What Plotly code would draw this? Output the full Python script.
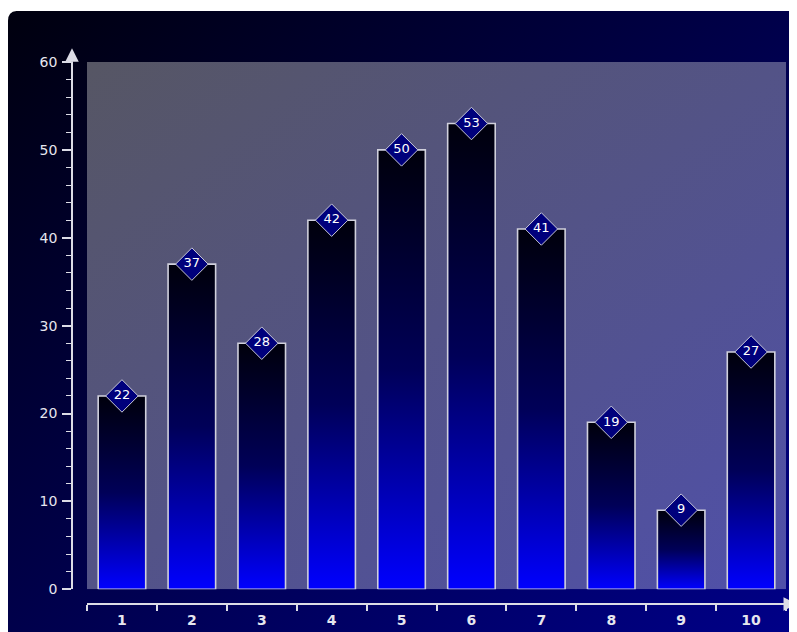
import base64
import plotly.graph_objects as go

# ---- data ----
categories = [1, 2, 3, 4, 5, 6, 7, 8, 9, 10]
values = [22, 37, 28, 42, 50, 53, 41, 19, 9, 27]
tick_labels = [str(c) for c in categories]

W, H = 797, 632
ML, MR, MT, MB = 64, 19, 54, 26
PW = W - ML - MR
PH = H - MT - MB
GAP = 15
BAR_HALF = 0.34

AXIS_COL = "#dcdce6"
FONT = "DejaVu Sans"


def svg_uri(svg):
    return "data:image/svg+xml;base64," + base64.b64encode(svg.encode()).decode()


bg_w, bg_h = W + 20, H + 20
outer_svg = f"""<svg xmlns='http://www.w3.org/2000/svg' width='{bg_w}' height='{bg_h}' viewBox='0 0 {bg_w} {bg_h}' preserveAspectRatio='none'>
<defs><linearGradient id='g' x1='0' y1='0' x2='1' y2='1'>
<stop offset='0' stop-color='#00000e'/><stop offset='1' stop-color='#00008c'/></linearGradient></defs>
<path d='M0,10 Q0,0 10,0 H{bg_w} V{bg_h} H0 Z' fill='url(#g)'/></svg>"""

plot_svg = """<svg xmlns='http://www.w3.org/2000/svg' width='700' height='530' viewBox='0 0 700 530' preserveAspectRatio='none'>
<defs><linearGradient id='p' x1='0' y1='0' x2='1' y2='1'>
<stop offset='0' stop-color='#565664'/><stop offset='1' stop-color='#5050aa'/></linearGradient></defs>
<rect x='0' y='0' width='700' height='530' fill='url(#p)'/></svg>"""

fig = go.Figure()

for c, v in zip(categories, values):
    fig.add_trace(go.Scatter(
        x=[c - BAR_HALF, c - BAR_HALF, c + BAR_HALF, c + BAR_HALF, c - BAR_HALF],
        y=[0, v, v, 0, 0],
        mode="lines",
        fill="toself",
        fillgradient=dict(type="vertical",
                          colorscale=[[0, "#0000ff"], [0.5, "#000058"], [1, "#00000c"]]),
        line=dict(color="#d0d0dc", width=1.6),
        hoverinfo="skip",
        showlegend=False,
    ))

fig.add_trace(go.Scatter(
    x=categories,
    y=values,
    mode="markers+text",
    text=[str(v) for v in values],
    textposition="middle center",
    textfont=dict(family=FONT, size=13, color="#ffffff"),
    marker=dict(symbol="diamond", size=25, color="#00007c",
                line=dict(color="#c8c8d8", width=1)),
    cliponaxis=False,
    hoverinfo="skip",
    showlegend=False,
))

boundaries = [c - 0.5 for c in categories] + [categories[-1] + 0.5]

fig.update_layout(
    width=W, height=H,
    margin=dict(l=ML, r=MR, t=MT, b=MB, pad=0),
    paper_bgcolor="#ffffff",
    plot_bgcolor="rgba(0,0,0,0)",
    showlegend=False,
    xaxis=dict(
        domain=[GAP / PW, 1],
        range=[0.5, 10.5],
        anchor="free", position=0,
        showgrid=False, zeroline=False,
        showline=True, linecolor=AXIS_COL, linewidth=1.5,
        tickmode="array", tickvals=categories, ticktext=tick_labels,
        ticks="", ticklabelstandoff=3,
        tickfont=dict(family=FONT, size=14, color="#e6e6ee", weight="bold"),
        minor=dict(tickmode="array", tickvals=boundaries, ticks="outside",
                   ticklen=6, tickwidth=1.5, tickcolor=AXIS_COL, showgrid=False),
        fixedrange=True,
    ),
    yaxis=dict(
        domain=[GAP / PH, 1],
        range=[0, 60],
        anchor="free", position=0,
        showgrid=False, zeroline=False,
        showline=True, linecolor=AXIS_COL, linewidth=1.5,
        tickmode="linear", tick0=0, dtick=10,
        ticks="outside", ticklen=9, tickwidth=1.5, tickcolor=AXIS_COL,
        ticklabelstandoff=2,
        tickfont=dict(family=FONT, size=14, color="#e6e6ee"),
        minor=dict(dtick=2, ticks="outside", ticklen=5, tickwidth=1,
                   tickcolor=AXIS_COL, showgrid=False),
        fixedrange=True,
    ),
    images=[
        dict(source=svg_uri(outer_svg), xref="paper", yref="paper",
             x=-ML / PW, y=1 + (MT - 2) / PH,
             sizex=bg_w / PW, sizey=bg_h / PH,
             xanchor="left", yanchor="top", sizing="stretch", layer="below"),
        dict(source=svg_uri(plot_svg), xref="x domain", yref="y domain",
             x=0, y=1, sizex=1, sizey=1,
             xanchor="left", yanchor="top", sizing="stretch", layer="below"),
    ],
    annotations=[
        dict(xref="paper", yref="paper", x=1 + 11 / PW, y=0,
             ax=-14, ay=0, showarrow=True, arrowhead=2, arrowsize=1.8,
             arrowwidth=1.5, arrowcolor=AXIS_COL, text=""),
        dict(xref="paper", yref="paper", x=0, y=1 + 14 / PH,
             ax=0, ay=16, showarrow=True, arrowhead=2, arrowsize=1.8,
             arrowwidth=1.5, arrowcolor=AXIS_COL, text=""),
    ],
)

fig.write_html("out.html")
